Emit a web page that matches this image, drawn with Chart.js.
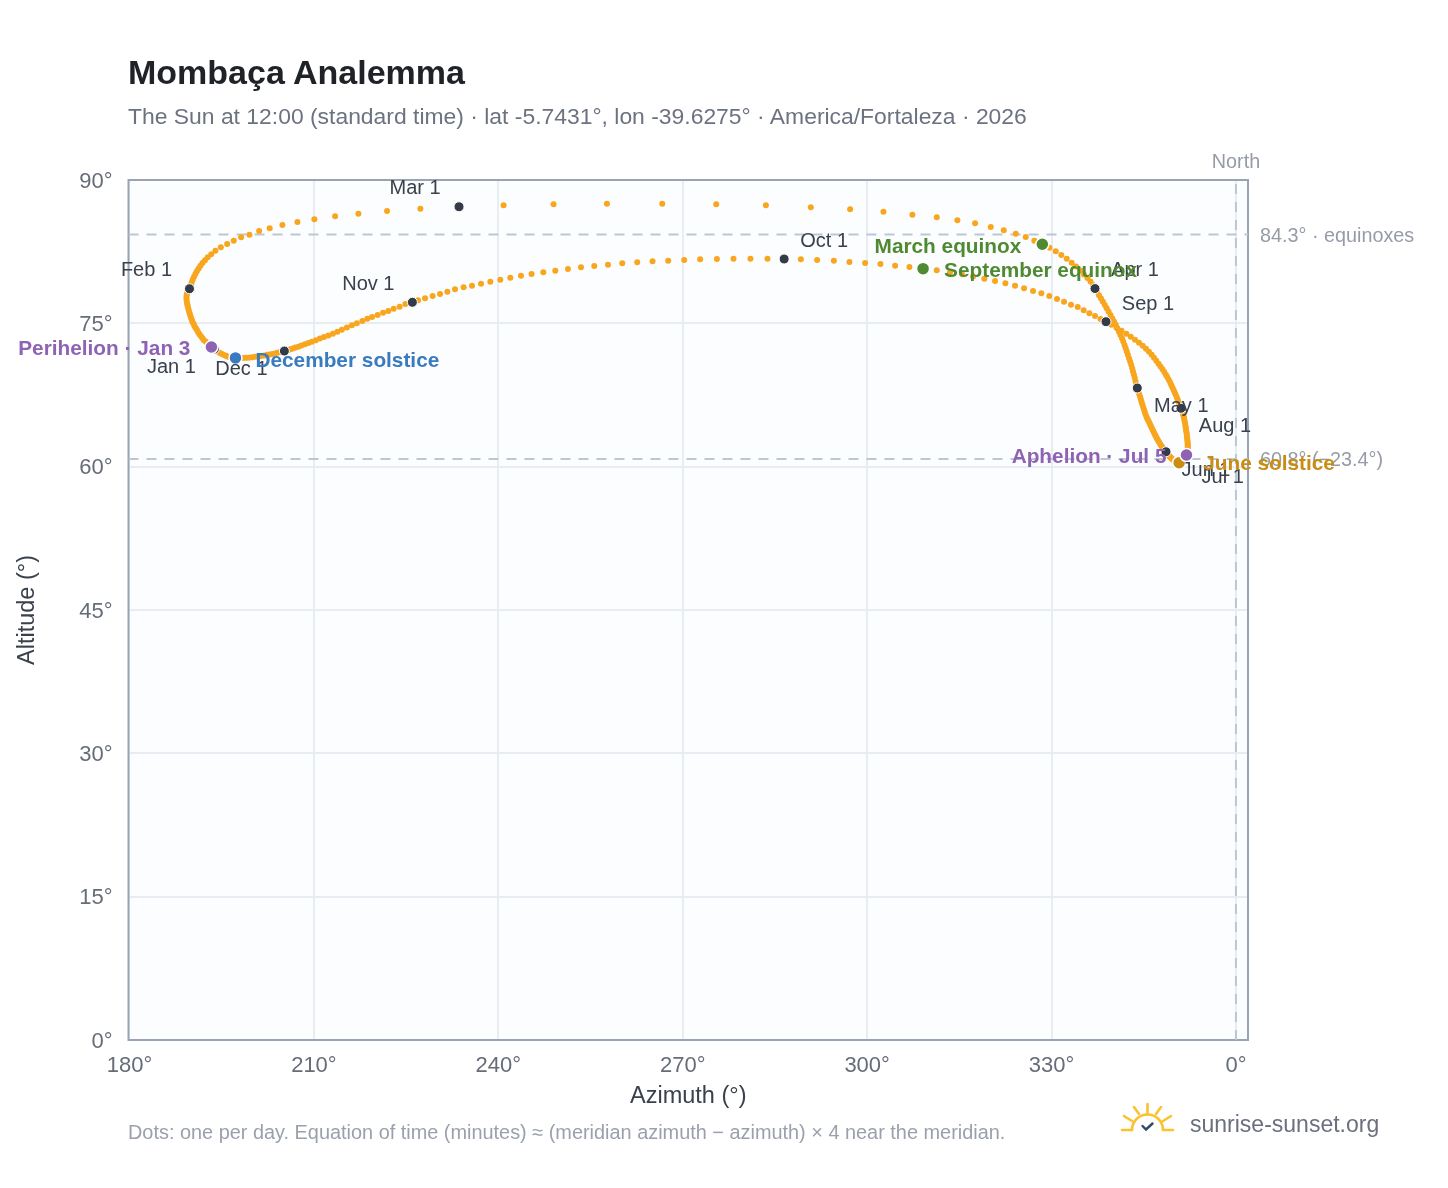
<!DOCTYPE html>
<html>
<head>
<meta charset="utf-8">
<title>Mombaça Analemma</title>
<script src="https://cdn.jsdelivr.net/npm/chart.js@4"></script>
<style>
  html, body { margin: 0; padding: 0; background: #fff; }
  body { width: 1448px; height: 1188px; position: relative; overflow: hidden; font-family: "Liberation Sans", sans-serif; }
  #wrap { position: absolute; left: 0; top: 0; width: 1448px; height: 1188px; }
  .txt { position: absolute; white-space: nowrap; line-height: 1; }
  #title { left: 128px; top: 55px; font-size: 34px; font-weight: bold; color: #1f2328; }
  #subtitle { left: 128px; top: 105px; font-size: 22.9px; color: #6b7280; }
  #note { left: 128px; top: 1123px; font-size: 19.9px; color: #9aa1ad; }
  #brand { left: 1190px; top: 1113px; font-size: 23px; color: #6b6f80; }
  #logo { position: absolute; left: 1118px; top: 1100px; }
</style>
</head>
<body>
<div id="wrap"><canvas id="chartAnalemma" width="1448" height="1188"></canvas></div>
<div class="txt" id="title">Mombaça Analemma</div>
<div class="txt" id="subtitle">The Sun at 12:00 (standard time) · lat -5.7431°, lon -39.6275° · America/Fortaleza · 2026</div>
<div class="txt" id="note">Dots: one per day. Equation of time (minutes) ≈ (meridian azimuth − azimuth) × 4 near the meridian.</div>
<div class="txt" id="brand">sunrise-sunset.org</div>
<svg id="logo" width="60" height="36" viewBox="1118 1100 60 36" fill="none" stroke-linecap="round">
  <g stroke="#f9c22e" stroke-width="2.6">
    <path d="M1122 1130H1132M1163 1130H1173"/>
    <path d="M1132 1130A15.5 15.5 0 0 1 1163 1130"/>
    <path d="M1147.5 1104V1113M1134 1107L1139 1114M1161 1107L1156 1114M1124 1116L1132 1121M1171 1116L1163 1121"/>
  </g>
  <path d="M1142.5 1126L1146 1129.5L1152.5 1123.5" stroke="#2f4a6b" stroke-width="2.4"/>
</svg>
<script>
// one reading per day, Jan 1 .. Dec 31 2026
const azimuth = [
  193.82,193.58,193.33,193.12,192.91,192.70,192.44,192.11,191.87,191.63,191.38,191.17,190.98,190.76,190.57,190.41,190.24,190.11,189.98,189.87,189.76,189.66,189.56,189.48,189.40,189.33,189.28,189.27,189.30,189.37,189.53,
  189.76,189.92,190.11,190.29,190.50,190.72,190.96,191.25,191.54,191.87,192.28,192.73,193.30,193.98,194.86,195.89,196.96,198.16,199.51,201.09,202.81,204.88,207.32,210.08,213.45,217.24,221.90,227.32,
  233.61,240.86,248.99,257.67,266.67,275.45,283.53,290.84,297.23,302.65,307.36,311.33,314.68,317.56,320.11,322.23,324.18,325.80,327.20,328.50,329.67,330.68,331.59,332.47,333.28,333.98,334.71,335.28,335.85,336.34,336.75,
  337.07,337.40,337.72,338.05,338.36,338.67,338.97,339.28,339.58,339.87,340.16,340.44,340.70,340.96,341.20,341.46,341.67,341.87,342.06,342.24,342.42,342.60,342.78,342.96,343.12,343.25,343.40,343.54,343.67,343.82,
  343.95,344.10,344.24,344.39,344.52,344.65,344.78,344.91,345.04,345.17,345.30,345.46,345.62,345.79,345.97,346.13,346.29,346.44,346.60,346.75,346.89,347.04,347.19,347.35,347.50,347.66,347.80,347.97,348.13,348.29,348.45,
  348.62,348.73,348.84,348.96,349.07,349.19,349.30,349.41,349.53,349.64,349.75,349.87,349.98,350.08,350.18,350.27,350.37,350.47,350.57,350.67,350.76,350.86,350.94,351.02,351.10,351.19,351.27,351.33,351.40,351.45,
  351.49,351.62,351.74,351.85,351.95,352.01,352.06,352.10,352.13,352.14,352.16,352.16,352.16,352.14,352.13,352.10,352.06,352.03,352.00,351.95,351.90,351.85,351.80,351.74,351.68,351.61,351.55,351.47,351.38,351.30,351.19,
  351.06,350.91,350.76,350.60,350.44,350.27,350.09,349.90,349.71,349.51,349.32,349.09,348.84,348.60,348.34,348.05,347.72,347.40,347.04,346.67,346.29,345.85,345.36,344.83,344.23,343.58,342.89,342.16,341.38,340.57,339.72,
  338.86,337.97,337.07,336.15,335.23,334.26,333.17,332.03,330.89,329.64,328.34,326.99,325.53,324.06,322.49,320.81,319.07,317.23,315.45,313.49,311.33,309.10,306.88,304.55,302.16,299.67,297.12,294.59,291.87,289.22,
  286.50,283.79,281.02,278.26,275.56,272.84,270.24,267.64,265.09,262.60,260.16,257.84,255.61,253.45,251.33,249.27,247.32,245.41,243.69,241.95,240.32,238.70,237.19,235.72,234.36,232.96,231.71,230.52,229.32,228.08,226.94,
  226.02,224.88,223.95,222.98,222.11,221.25,220.37,219.46,218.70,217.89,216.99,216.18,215.37,214.55,213.82,213.09,212.36,211.63,210.98,210.32,209.67,209.11,208.54,207.97,207.48,206.99,206.59,206.18,205.85,205.53,
  205.20,204.88,204.47,204.06,203.66,203.25,202.85,202.44,202.03,201.63,201.22,200.81,200.41,200.00,199.59,199.19,198.78,198.37,197.97,197.64,197.24,196.91,196.59,196.26,195.93,195.69,195.37,195.04,194.72,194.47,194.15
];
const altitude = [
  72.31,72.42,72.52,72.64,72.77,72.92,73.08,73.24,73.44,73.65,73.86,74.07,74.29,74.51,74.73,74.95,75.17,75.40,75.63,75.86,76.09,76.32,76.55,76.78,77.01,77.24,77.47,77.70,77.93,78.16,78.39,
  78.62,78.96,79.28,79.60,79.88,80.16,80.45,80.73,81.02,81.31,81.61,81.92,82.24,82.59,82.95,83.30,83.65,84.00,84.27,84.66,84.95,85.29,85.60,85.89,86.20,86.47,86.75,87.00,
  87.20,87.35,87.46,87.52,87.52,87.46,87.35,87.14,86.93,86.68,86.37,86.09,85.78,85.47,85.08,84.74,84.38,84.03,83.65,83.27,82.90,82.54,82.15,81.76,81.34,80.95,80.53,80.11,79.74,79.38,79.01,
  78.64,78.30,77.95,77.61,77.26,76.92,76.57,76.23,75.87,75.53,75.18,74.84,74.49,74.13,73.79,73.44,73.10,72.74,72.40,72.05,71.71,71.35,71.00,70.66,70.31,69.97,69.61,69.27,68.92,68.58,
  68.23,67.93,67.64,67.34,67.06,66.78,66.50,66.23,65.97,65.71,65.46,65.21,64.97,64.74,64.51,64.29,64.07,63.86,63.65,63.45,63.26,63.07,62.89,62.72,62.55,62.38,62.23,62.08,61.93,61.80,61.67,
  61.56,61.45,61.36,61.26,61.18,61.09,61.01,60.95,60.88,60.81,60.75,60.70,60.64,60.60,60.56,60.52,60.49,60.47,60.45,60.43,60.41,60.41,60.43,60.45,60.48,60.52,60.57,60.63,60.71,60.79,
  60.89,60.96,61.05,61.14,61.22,61.33,61.43,61.54,61.67,61.81,61.95,62.11,62.27,62.43,62.61,62.79,62.98,63.18,63.38,63.59,63.79,64.01,64.23,64.46,64.67,64.88,65.09,65.30,65.51,65.71,65.91,
  66.11,66.36,66.62,66.88,67.14,67.42,67.69,67.96,68.23,68.50,68.79,69.07,69.35,69.63,69.92,70.20,70.48,70.77,71.08,71.39,71.71,72.02,72.33,72.65,72.96,73.28,73.59,73.90,74.22,74.53,74.85,
  75.17,75.45,75.77,76.05,76.36,76.71,76.95,77.26,77.55,77.86,78.14,78.38,78.67,78.94,79.19,79.43,79.67,79.90,80.13,80.34,80.55,80.72,80.90,81.03,81.21,81.31,81.42,81.55,81.63,81.70,
  81.73,81.76,81.76,81.76,81.73,81.70,81.63,81.55,81.49,81.39,81.28,81.14,81.00,80.86,80.69,80.51,80.34,80.16,79.98,79.77,79.56,79.36,79.15,78.94,78.77,78.56,78.31,78.07,77.86,77.62,77.41,
  77.20,77.02,76.74,76.53,76.29,76.11,75.87,75.66,75.47,75.24,75.00,74.79,74.56,74.34,74.11,73.91,73.72,73.57,73.40,73.24,73.08,72.94,72.80,72.68,72.56,72.46,72.37,72.28,72.21,72.14,
  72.10,72.04,71.98,71.92,71.85,71.80,71.75,71.70,71.64,71.60,71.56,71.52,71.49,71.45,71.43,71.41,71.39,71.38,71.37,71.37,71.38,71.40,71.43,71.48,71.54,71.60,71.69,71.79,71.90,72.00,72.16
];

const monthNames = ["Jan 1", "Feb 1", "Mar 1", "Apr 1", "May 1", "Jun 1", "Jul 1", "Aug 1", "Sep 1", "Oct 1", "Nov 1", "Dec 1"];
const monthDays = [0, 31, 59, 90, 120, 151, 181, 212, 243, 273, 304, 334];

const eventNames = ["December solstice", "March equinox", "September equinox", "June solstice", "Perihelion · Jan 3", "Aphelion · Jul 5"];
const eventDays = [354, 78, 264, 171, 2, 185];
const eventColors = ["#3a7abf", "#4f8a32", "#4f8a32", "#c98d14", "#8e63b3", "#8e63b3"];

const azimuthTicks = [180, 210, 240, 270, 300, 330, 360];
const refAltitudes = [84.3, 60.8];
const refLabels = ["84.3° · equinoxes", "60.8° (−23.4°)"];
const northAzimuth = 360;

const AZ_MIN = 179.84, AZ_MAX = 361.96;
const FONT = '"Liberation Sans", sans-serif';

const points = (idx) => idx.map((i) => ({ x: azimuth[i], y: altitude[i] }));
const everyDay = azimuth.map((_, i) => i);

// label offsets from the marker, px
const monthOffset = [[-43, 18], [-43, -18], [-44, -18], [40, -18], [44, 18], [40, 19], [39, 19], [44, 18], [42, -17], [40, -18], [-44, -18], [-43, 18]];
const eventAnchor = [[20, 3, "left"], [-21, 3, "right"], [21, 3, "left"], [24, 2, "left"], [-21, 2, "right"], [-20, 2, "right"]];

const plotFrame = {
  id: "plotFrame",
  beforeDraw(chart) {
    const { ctx, chartArea: a } = chart;
    ctx.save();
    ctx.fillStyle = "#fbfdff";
    ctx.fillRect(a.left, a.top, a.width, a.height);
    ctx.restore();
  },
  beforeDatasetsDraw(chart) {
    const { ctx, chartArea: a, scales } = chart;
    ctx.save();
    ctx.strokeStyle = "#98a4b4";
    ctx.lineWidth = 2;
    ctx.strokeRect(a.left, a.top, a.width, a.height);
    ctx.font = "19.8px " + FONT;
    ctx.fillStyle = "#959ca8";
    ctx.textBaseline = "middle";
    ctx.textAlign = "left";
    refAltitudes.forEach((v, i) => ctx.fillText(refLabels[i], a.right + 12, scales.y.getPixelForValue(v) + 2));
    ctx.textAlign = "center";
    ctx.fillText("North", scales.x.getPixelForValue(northAzimuth), a.top - 17);
    ctx.restore();
  }
};

const markerLabels = {
  id: "markerLabels",
  afterDatasetsDraw(chart) {
    const { ctx, scales } = chart;
    ctx.save();
    ctx.textBaseline = "middle";
    ctx.font = "20px " + FONT;
    ctx.fillStyle = "#3a414d";
    ctx.textAlign = "center";
    monthNames.forEach((name, i) => {
      const d = monthDays[i];
      ctx.fillText(name, scales.x.getPixelForValue(azimuth[d]) + monthOffset[i][0], scales.y.getPixelForValue(altitude[d]) + monthOffset[i][1]);
    });
    ctx.font = "bold 20.8px " + FONT;
    eventNames.forEach((name, i) => {
      const d = eventDays[i];
      ctx.fillStyle = eventColors[i];
      ctx.textAlign = eventAnchor[i][2];
      ctx.fillText(name, scales.x.getPixelForValue(azimuth[d]) + eventAnchor[i][0], scales.y.getPixelForValue(altitude[d]) + eventAnchor[i][1]);
    });
    ctx.restore();
  }
};

const refLine = (data) => ({
  data,
  showLine: true,
  borderColor: "#bcc7d3",
  borderWidth: 2,
  borderDash: [10, 8],
  pointRadius: 0,
  order: 4
});

new Chart(document.getElementById("chartAnalemma"), {
  type: "scatter",
  data: {
    datasets: [
      ...refAltitudes.map((v) => refLine([{ x: AZ_MIN, y: v }, { x: AZ_MAX, y: v }])),
      refLine([{ x: northAzimuth, y: 0 }, { x: northAzimuth, y: 90 }]),
      { data: points(everyDay), pointRadius: 3, pointBackgroundColor: "#f9a61f", pointBorderWidth: 0, order: 3 },
      { data: points(monthDays), pointRadius: 5, pointBackgroundColor: "#343b48", pointBorderColor: "#ffffff", pointBorderWidth: 1, order: 2 },
      { data: points(eventDays), pointRadius: 6.5, pointBackgroundColor: eventColors, pointBorderColor: "#ffffff", pointBorderWidth: 1.5, order: 1 }
    ]
  },
  options: {
    responsive: false,
    animation: false,
    layout: { padding: { top: 180, right: 200, bottom: 77, left: 13 } },
    plugins: { legend: { display: false }, tooltip: { enabled: false }, title: { display: false } },
    scales: {
      x: {
        type: "linear",
        min: AZ_MIN,
        max: AZ_MAX,
        afterBuildTicks: (s) => { s.ticks = azimuthTicks.map((value) => ({ value })); },
        afterFit: (s) => { s.height = 71; },
        border: { display: false },
        grid: { color: "#e8edf3", lineWidth: 2, drawTicks: false },
        ticks: { color: "#666c78", padding: 13, maxRotation: 0, autoSkip: false, font: { family: FONT, size: 22 }, callback: (v) => (v % 360) + "°" },
        title: { display: true, text: "Azimuth (°)", color: "#3a414d", padding: { top: 0, bottom: 0 }, font: { family: FONT, size: 23.5 } }
      },
      y: {
        min: 0,
        max: 90,
        afterFit: (s) => { s.width = 115.5; },
        border: { display: false },
        grid: { color: "#e8edf3", lineWidth: 2, drawTicks: false },
        ticks: { stepSize: 15, color: "#666c78", padding: 16, labelOffset: 1.5, font: { family: FONT, size: 22 }, callback: (v) => v + "°" },
        title: { display: true, text: "Altitude (°)", color: "#3a414d", padding: { top: 0, bottom: 0 }, font: { family: FONT, size: 23.5 } }
      }
    }
  },
  plugins: [plotFrame, markerLabels]
});
</script>
</body>
</html>
